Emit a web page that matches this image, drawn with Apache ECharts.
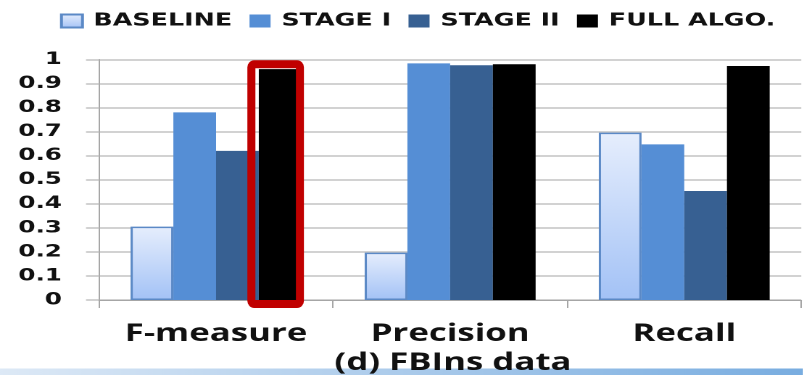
<!DOCTYPE html>
<html>
<head>
<meta charset="utf-8">
<script src="https://cdn.jsdelivr.net/npm/echarts@6/dist/echarts.min.js"></script>
<style>
  html, body { margin: 0; padding: 0; background: #fff; overflow: hidden; }
  /* The chart is laid out narrow and widened horizontally, giving the wide lettering */
  #chart {
    width: 553.8px;
    height: 375px;
    transform: scaleX(1.45);
    transform-origin: 0 0;
  }
</style>
</head>
<body>
<div id="chart"></div>
<script>
// Metrics on the FBIns dataset for each stage of the algorithm
const categories = ['F-measure', 'Precision', 'Recall'];
const seriesNames = ['BASELINE', 'STAGE I', 'STAGE II', 'FULL ALGO.'];
const baseline = [0.305, 0.197, 0.696];
const stage1 = [0.78, 0.984, 0.647];
const stage2 = [0.62, 0.976, 0.453];
const fullAlgo = [0.96, 0.98, 0.973];
const yTicks = [0, 0.1, 0.2, 0.3, 0.4, 0.5, 0.6, 0.7, 0.8, 0.9, 1];
const caption = '(d) FBIns data';

const SX = 1.45; // horizontal stretch applied to the chart box
const W = 553.8;

const chart = echarts.init(document.getElementById('chart'), null, {
  renderer: 'canvas',
  devicePixelRatio: 2
});

const gridColor = '#c4c4c4';
const axisColor = '#a6a6a6';
const textColor = '#111111';

const option = {
  animation: false,
  backgroundColor: '#ffffff',
  title: {
    text: caption,
    left: 453 / SX,
    top: 351,
    padding: 0,
    textAlign: 'center',
    textStyle: { fontFamily: 'Open Sans', fontWeight: 'bold', fontSize: 24, color: textColor }
  },
  legend: {
    data: seriesNames,
    left: 60 / SX,
    top: 12,
    padding: 0,
    itemWidth: 14.5,
    itemHeight: 13,
    itemGap: 12,
    icon: 'rect',
    textStyle: {
      fontFamily: 'DejaVu Sans', fontWeight: 'bold', fontSize: 17.5, color: textColor,
      padding: [0, 0, 0, 2.5]
    }
  },
  grid: { left: 99 / SX, right: W - 801 / SX, top: 59.5, bottom: 75, containLabel: false },
  xAxis: {
    type: 'category',
    data: categories,
    axisLine: { show: true, lineStyle: { color: axisColor, width: 1 } },
    axisTick: { show: true, length: 8, lineStyle: { color: axisColor } },
    axisLabel: {
      show: true, margin: 22, interval: 0,
      fontFamily: 'Open Sans', fontWeight: 'bold', fontSize: 24, color: textColor
    },
    splitLine: { show: false }
  },
  yAxis: {
    type: 'value',
    min: 0,
    max: 1,
    interval: 0.1,
    axisLine: { show: true, lineStyle: { color: axisColor, width: 1 } },
    axisTick: { show: true, length: 13 / SX, lineStyle: { color: gridColor, width: 1.5 } },
    axisLabel: {
      margin: 37 / SX,
      fontFamily: 'DejaVu Sans',
      fontWeight: 'bold',
      fontSize: 17,
      color: textColor,
      formatter: function (v) {
        const t = yTicks.find(function (k) { return Math.abs(k - v) < 1e-6; });
        return t === undefined ? '' : String(t);
      }
    },
    splitLine: { show: true, lineStyle: { color: gridColor, width: 1.5 } }
  },
  series: [
    {
      name: seriesNames[0],
      type: 'bar',
      data: baseline,
      barGap: '0%',
      barCategoryGap: '27%',
      itemStyle: {
        color: new echarts.graphic.LinearGradient(0, 0, 0, 1, [
          { offset: 0, color: '#e6eefd' },
          { offset: 1, color: '#a3c2f6' }
        ]),
        borderColor: '#5b89c6',
        borderWidth: 1.5
      }
    },
    {
      name: seriesNames[1],
      type: 'bar',
      data: stage1,
      barGap: '0%',
      barCategoryGap: '27%',
      itemStyle: { color: '#558ed5' }
    },
    {
      name: seriesNames[2],
      type: 'bar',
      data: stage2,
      barGap: '0%',
      barCategoryGap: '27%',
      itemStyle: { color: '#376092' }
    },
    {
      name: seriesNames[3],
      type: 'bar',
      data: fullAlgo,
      barGap: '0%',
      barCategoryGap: '27%',
      itemStyle: { color: '#000000' }
    }
  ],
  graphic: [
    {
      type: 'rect',
      z: -1,
      shape: { x: 0, y: 368.5, width: W, height: 7 },
      style: {
        fill: new echarts.graphic.LinearGradient(0, 0, 1, 0, [
          { offset: 0, color: '#dde9f6' },
          { offset: 1, color: '#79ade0' }
        ])
      }
    }
  ]
};

chart.setOption(option);

// Highlight frame around the full algorithm's F-measure bar, placed from the bar's own layout.
// Drawn in widened units and squeezed back so its sides keep an even stroke once stretched.
const barLayout = chart.getModel().getSeriesByIndex(3).getData().getItemLayout(0);
if (barLayout) {
  const left = barLayout.x * SX;
  const right = (barLayout.x + barLayout.width) * SX;
  const yTop = Math.min(barLayout.y, barLayout.y + barLayout.height);
  const yBase = Math.max(barLayout.y, barLayout.y + barLayout.height);
  const bx = left - 7.4;
  const by = yTop - 4.9;
  chart.setOption({
    graphic: [
      option.graphic[0],
      {
        type: 'rect',
        z: 100,
        scaleX: 1 / SX,
        originX: 0,
        shape: { x: bx, y: by, width: (right - 1.6) - bx, height: (yBase + 4) - by, r: 3 },
        style: { fill: 'none', stroke: '#c00000', lineWidth: 8 }
      }
    ]
  });
}
</script>
</body>
</html>
